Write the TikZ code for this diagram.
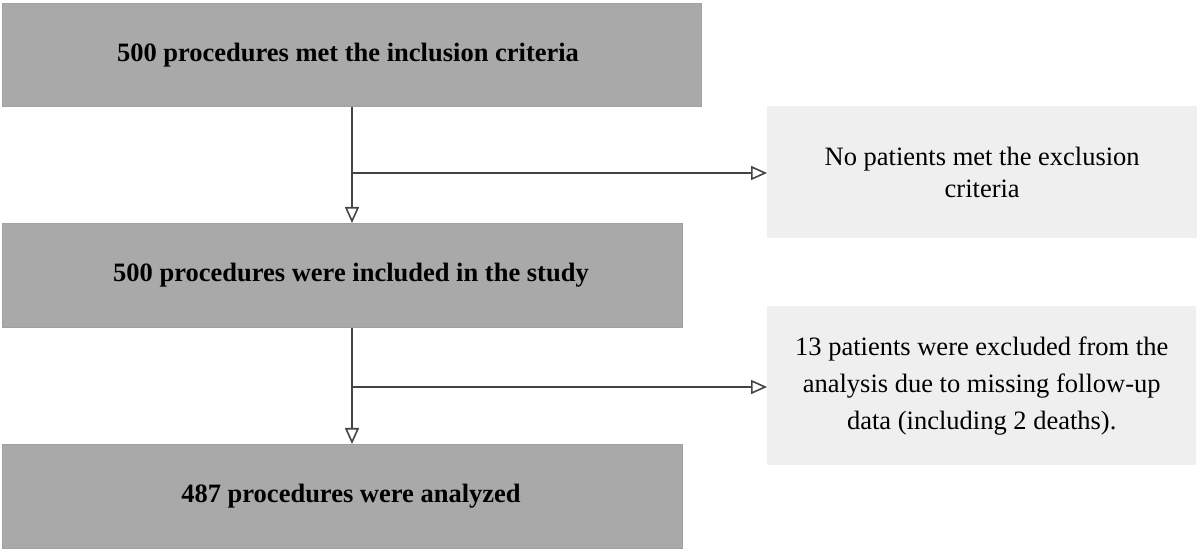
\documentclass[tikz,border=0pt]{standalone}
\usepackage{fontspec}
\setmainfont{Liberation Serif}
\usetikzlibrary{arrows.meta,positioning}
\definecolor{boxgray}{HTML}{A9A9A9}
\definecolor{boxedge}{HTML}{A0A0A0}
\definecolor{sidegray}{HTML}{EFEFEF}
\definecolor{linegray}{HTML}{444444}
\begin{document}
\begin{tikzpicture}[x=1pt,y=1pt,
  mainbox/.style={draw=boxedge, line width=1pt, fill=boxgray, anchor=north west, inner sep=0pt},
  maintext/.style={font=\fontsize{26.5}{30}\selectfont\bfseries, inner sep=0pt},
  sidebox/.style={fill=sidegray, anchor=north west, inner sep=0pt,
    font=\fontsize{26.5}{36}\selectfont, align=center},
  conn/.style={draw=linegray, line width=1.6pt, -{Triangle[open, length=16pt, width=14pt, line width=1.6pt]}}
]
\useasboundingbox (0,0) rectangle (1200,551);
\node[mainbox, minimum width=699pt, minimum height=103pt] (b1) at (2,548) {};
\node[mainbox, minimum width=680pt, minimum height=104pt] (b2) at (2,328) {};
\node[mainbox, minimum width=680pt, minimum height=104pt] (b3) at (2,107) {};
\node[maintext] (t1) at (b1.center -| 348,0) {500 procedures met the inclusion criteria};
\node[maintext] (t2) at (b2.center -| 351,0) {500 procedures were included in the study};
\node[maintext] (t3) at (b3.center -| 351,0) {487 procedures were analyzed};
\node[sidebox, minimum width=430pt, minimum height=132pt, font=\fontsize{26.5}{32}\selectfont] (s1) at (767,445) {No patients met the exclusion\\criteria};
\node[sidebox, minimum width=429pt, minimum height=159pt, font=\fontsize{26.5}{37}\selectfont] (s2) at (767,245) {13 patients were excluded from the\\analysis due to missing follow-up\\data (including 2 deaths).};
\coordinate (j1) at (352,378);
\coordinate (j2) at (352,164);
\draw[conn] (b1.south -| j1) -- (j1 |- b2.north);
\draw[conn] (j1) -- (j1 -| s1.west);
\draw[conn] (b2.south -| j2) -- (j2 |- b3.north);
\draw[conn] (j2) -- (j2 -| s2.west);
\end{tikzpicture}
\end{document}
